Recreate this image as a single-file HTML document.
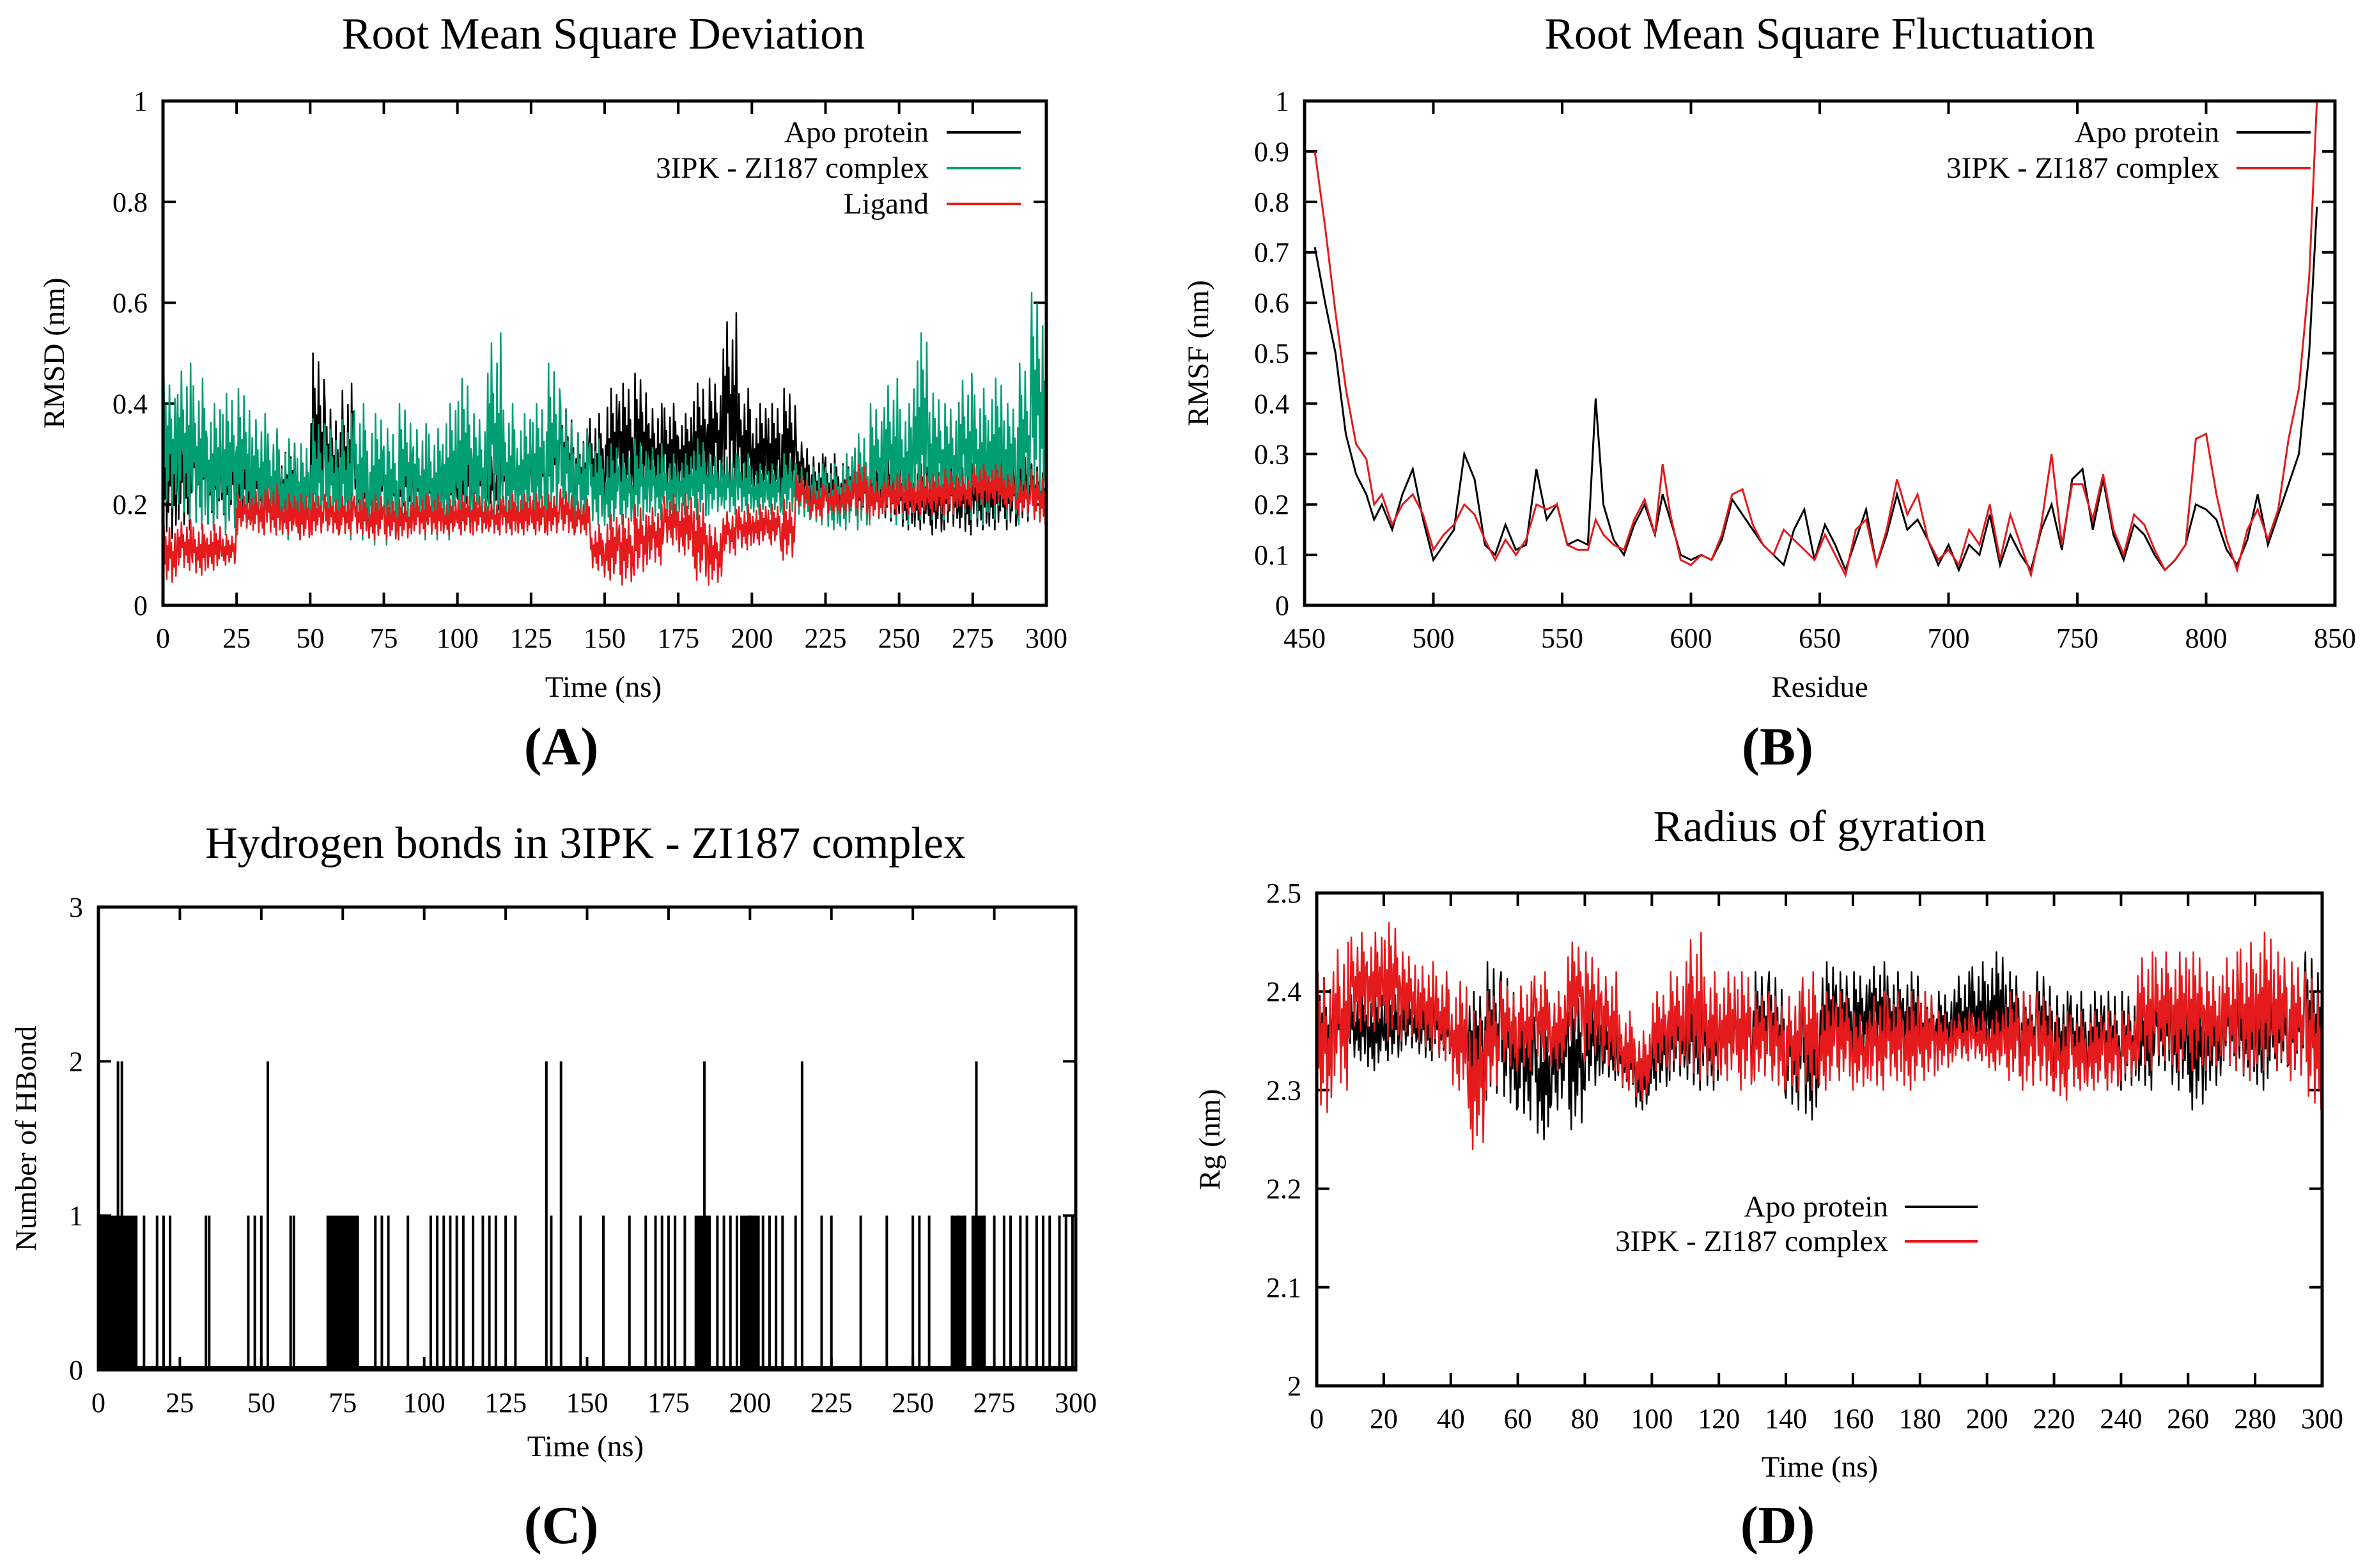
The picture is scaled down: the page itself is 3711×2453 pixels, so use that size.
<!DOCTYPE html>
<html><head><meta charset="utf-8"><style>
html,body{margin:0;padding:0;background:#fff;}
svg{display:block;font-family:"Liberation Serif",serif;}
</style></head><body>
<svg id="fig" width="3711" height="2453" viewBox="0 0 3711 2453" xmlns="http://www.w3.org/2000/svg"></svg>
<script>
// ---------- Panel A: RMSD (5 ns bins, low/high envelope) ----------
const rmsdApoHi=[.38,.36,.40,.38,.35,.33,.32,.34,.33,.30,.50,.40,.44,.33,.32,.30,.34,.32,.30,.33,.33,.32,.30,.34,.35,.35,.40,.40,.35,.38,.43,.44,.46,.40,.40,.38,.44,.45,.58,.43,.40,.40,.43,.33,.30,.30,.30,.30,.30,.30,.28,.28,.27,.30,.28,.28,.30,.30,.30,.28];
const rmsdApoLo=[.12,.15,.17,.15,.15,.15,.16,.15,.15,.15,.15,.17,.16,.15,.15,.15,.15,.15,.16,.16,.16,.17,.17,.17,.17,.18,.18,.18,.18,.18,.18,.20,.20,.20,.22,.22,.20,.22,.22,.22,.20,.20,.20,.20,.18,.17,.17,.16,.17,.16,.15,.15,.14,.15,.14,.15,.15,.15,.16,.16];
const rmsdCpxHi=[.45,.48,.45,.40,.42,.43,.38,.35,.33,.32,.37,.36,.38,.40,.38,.35,.40,.36,.35,.40,.45,.38,.54,.40,.38,.40,.48,.40,.35,.33,.32,.30,.33,.32,.30,.30,.33,.30,.30,.30,.28,.28,.30,.28,.28,.28,.30,.34,.40,.45,.40,.54,.42,.40,.46,.43,.45,.40,.48,.62];
const rmsdCpxLo=[.18,.17,.15,.15,.14,.14,.14,.14,.13,.13,.14,.14,.13,.13,.12,.12,.14,.13,.13,.13,.14,.14,.14,.14,.15,.15,.14,.15,.15,.16,.15,.16,.16,.17,.17,.18,.17,.18,.18,.18,.18,.18,.18,.17,.16,.15,.15,.15,.16,.16,.16,.17,.17,.17,.17,.16,.17,.17,.16,.18];
const rmsdLigHi=[.16,.17,.16,.16,.14,.22,.23,.24,.22,.22,.22,.22,.22,.22,.22,.21,.21,.22,.22,.21,.22,.22,.21,.22,.22,.22,.22,.23,.21,.16,.18,.18,.20,.20,.22,.22,.21,.16,.19,.20,.20,.20,.21,.26,.24,.24,.25,.28,.25,.26,.26,.26,.26,.27,.26,.28,.28,.26,.25,.27];
const rmsdLigLo=[.04,.07,.06,.07,.08,.15,.14,.14,.14,.13,.14,.14,.14,.14,.13,.13,.13,.14,.14,.14,.14,.14,.14,.14,.14,.14,.14,.14,.14,.07,.05,.04,.06,.08,.12,.10,.05,.04,.10,.11,.12,.12,.09,.19,.17,.18,.18,.18,.17,.18,.18,.18,.18,.18,.19,.20,.20,.19,.18,.16];
// ---------- Panel B: RMSF ----------
const rmsfResidue=[454,458,462,466,470,474,477,480,484,488,492,496,500,504,508,512,516,520,524,528,532,536,540,544,548,552,556,560,563,566,570,574,578,582,586,589,592,596,600,604,608,612,616,620,624,628,632,636,640,644,648,652,656,660,664,668,672,676,680,684,688,692,696,700,704,708,712,716,720,724,728,732,736,740,744,748,752,756,760,764,768,772,776,780,784,788,792,796,800,804,808,812,816,820,824,828,832,836,840,843];
const rmsfApo=[.71,.60,.50,.34,.26,.22,.17,.20,.15,.22,.27,.17,.09,.12,.15,.30,.25,.12,.10,.16,.11,.12,.27,.17,.20,.12,.13,.12,.41,.20,.13,.10,.16,.20,.14,.22,.17,.10,.09,.10,.09,.13,.21,.18,.15,.12,.10,.08,.15,.19,.09,.16,.12,.07,.13,.19,.08,.14,.22,.15,.17,.13,.08,.12,.07,.12,.10,.18,.08,.14,.10,.07,.15,.20,.11,.25,.27,.15,.25,.14,.09,.16,.14,.10,.07,.09,.12,.20,.19,.17,.11,.08,.13,.22,.12,.18,.24,.30,.50,.79];
const rmsfCpx=[.90,.75,.58,.43,.32,.29,.20,.22,.16,.20,.22,.18,.11,.14,.16,.20,.18,.13,.09,.13,.10,.13,.20,.19,.20,.12,.11,.11,.17,.14,.12,.11,.17,.21,.14,.28,.18,.09,.08,.10,.09,.14,.22,.23,.16,.12,.10,.15,.13,.11,.09,.14,.10,.06,.15,.17,.08,.15,.25,.18,.22,.13,.09,.11,.08,.15,.12,.20,.09,.18,.12,.06,.16,.30,.12,.24,.24,.17,.26,.15,.10,.18,.16,.11,.07,.09,.12,.33,.34,.22,.13,.07,.15,.19,.13,.19,.33,.43,.65,1.0];
// ---------- Panel C: H-bonds ----------
const hbTwoTimes=[6,7.2,52,137.5,142,186,216,269.5];
const hbOneTimes=[14,18,20,22,33,34,46,48,50,59,60,85,87,89,95,102,104,106,108,110,112,115,118,120,122,125,128,139,148,155,163,168,171,173,175,177,180,190,192,194,196,200,204,206,208,210,214,222,225,234,242,250,252,255,262,264,266,272,275,278,280,283,285,288,290,292,295,297,299];
const hbDenseStart=[0,70,183,197,262,268];
const hbDenseEnd=[12,80,188,203,266,272];
// ---------- Panel D: Rg (5 ns bins) ----------
const rgApoHi=[2.42,2.40,2.40,2.40,2.40,2.40,2.40,2.40,2.38,2.40,2.43,2.42,2.40,2.38,2.40,2.40,2.40,2.38,2.36,2.34,2.38,2.40,2.41,2.40,2.40,2.40,2.42,2.42,2.40,2.40,2.43,2.42,2.42,2.43,2.42,2.42,2.40,2.40,2.42,2.43,2.44,2.42,2.40,2.42,2.40,2.40,2.40,2.40,2.40,2.40,2.42,2.42,2.40,2.40,2.42,2.40,2.42,2.40,2.42,2.44];
const rgApoLo=[2.30,2.33,2.33,2.32,2.33,2.34,2.33,2.33,2.32,2.30,2.29,2.28,2.27,2.25,2.28,2.26,2.30,2.31,2.30,2.28,2.30,2.31,2.30,2.30,2.32,2.32,2.32,2.30,2.28,2.27,2.32,2.33,2.33,2.34,2.33,2.33,2.32,2.33,2.33,2.33,2.33,2.33,2.32,2.32,2.31,2.31,2.31,2.30,2.30,2.30,2.32,2.30,2.28,2.30,2.32,2.31,2.30,2.32,2.31,2.30];
const rgCpxHi=[2.42,2.45,2.46,2.46,2.47,2.44,2.43,2.42,2.41,2.38,2.40,2.41,2.41,2.42,2.40,2.45,2.44,2.42,2.38,2.36,2.40,2.42,2.46,2.42,2.42,2.42,2.40,2.40,2.40,2.42,2.40,2.40,2.38,2.40,2.40,2.40,2.40,2.38,2.38,2.38,2.38,2.40,2.40,2.40,2.38,2.38,2.38,2.38,2.38,2.44,2.44,2.44,2.44,2.42,2.44,2.45,2.46,2.44,2.43,2.42];
const rgCpxLo=[2.27,2.30,2.36,2.36,2.35,2.35,2.34,2.33,2.30,2.24,2.30,2.32,2.32,2.33,2.32,2.35,2.33,2.32,2.30,2.29,2.32,2.32,2.31,2.31,2.31,2.30,2.31,2.30,2.30,2.30,2.30,2.31,2.30,2.30,2.31,2.30,2.31,2.32,2.33,2.33,2.32,2.31,2.30,2.30,2.29,2.30,2.30,2.30,2.31,2.32,2.33,2.32,2.32,2.32,2.32,2.31,2.32,2.32,2.31,2.28];

const NS="http://www.w3.org/2000/svg";
const svg=document.getElementById('fig');
function el(tag,attrs,parent){const e=document.createElementNS(NS,tag);for(const k in attrs)e.setAttribute(k,attrs[k]);(parent||svg).appendChild(e);return e;}
function txt(s,x,y,size,anchor,parent,extra){const t=el('text',Object.assign({x:x,y:y,'font-size':size,'text-anchor':anchor||'middle',fill:'#000'},extra||{}),parent);t.textContent=s;return t;}
const jitter=[0,1,.35,.8,.1,.65,.25,.95,.45,.7,.05,.55,.3,.85,.15,.6];

function panel(p){
  const g=el('g',{});
  
  
  const sx=v=>p.L+(v-p.x0)/(p.x1-p.x0)*(p.R-p.L);
  const sy=v=>p.B-(v-p.y0)/(p.y1-p.y0)*(p.B-p.T);
  p.sx=sx;p.sy=sy;p.g=g;
  const tg=el('g',{stroke:'#000','stroke-width':4},g);
  
  
  p.xt.forEach(v=>{const x=sx(v);el('line',{x1:x,y1:p.B,x2:x,y2:p.B-20},tg);el('line',{x1:x,y1:p.T,x2:x,y2:p.T+20},tg);
    const t=txt(String(v),x,p.B+66,44,'middle',g);
    
    });
  p.yt.forEach(v=>{const y=sy(v);el('line',{x1:p.L,y1:y,x2:p.L+20,y2:y},tg);el('line',{x1:p.R,y1:y,x2:p.R-20,y2:y},tg);
    const t=txt(p.yf?p.yf(v):String(v),p.L-24,y+15,44,'end',g);
    
    });
  const tt=txt(p.title,p.tx,p.ty,70,'middle',g);
  
  
  const xl=txt(p.xlab,p.tx,p.xly,47,'middle',g);
  
  
  const yl=txt(p.ylab,0,0,47,'middle',g,{transform:`translate(${p.ylx},${(p.T+p.B)/2}) rotate(-90)`});
  
  
  const pl=txt(p.letter,p.lx,p.ly,84,'middle',g,{'font-weight':'bold'});
  
  
  return p;
}
function border(p){const r=el('rect',{x:p.L,y:p.T,width:p.R-p.L,height:p.B-p.T,fill:'none',stroke:'#000','stroke-width':5},p.g);
  
  }
function noisy(p,lo,hi,x0,w,color,name){
  const pts=[];const k=jitter.length;
  for(let i=0;i<lo.length;i++){for(let j=0;j<k;j++){const t=x0+i*w+j*w/k;const f=jitter[(j+i*3)%k];pts.push(p.sx(t).toFixed(1)+','+p.sy(lo[i]+f*(hi[i]-lo[i])).toFixed(1));}}
  const pl=el('polyline',{points:pts.join(' '),fill:'none',stroke:color,'stroke-width':2.5,'stroke-linejoin':'round'},p.g);
  
  
}
function line(p,xs,ys,color,name){
  const pl=el('polyline',{points:xs.map((x,i)=>p.sx(x).toFixed(1)+','+p.sy(ys[i]).toFixed(1)).join(' '),fill:'none',stroke:color,'stroke-width':3},p.g);
  
  
}
function legend(p,items,xr,y0,dy,l1,l2){
  items.forEach((it,i)=>{const y=y0+i*dy;
    const t=txt(it[0],xr,y+15,47,'end',p.g);
    
    
    const l=el('line',{x1:l1,y1:y,x2:l2,y2:y,stroke:it[1],'stroke-width':4},p.g);
    
    });
}
const rng=(a,b,s)=>{const r=[];for(let v=a;v<=b+1e-9;v+=s)r.push(Math.round(v*100)/100);return r;};
const GREEN='#009e73',RED='#e41a1c';

// Panel A
const A=panel({name:'rmsd-panel',L:255,R:1637,T:158,B:947,x0:0,x1:300,y0:0,y1:1,xt:rng(0,300,25),yt:rng(0,1,.2),yf:v=>v===0||v===1?String(v):v.toFixed(1),
  title:'Root Mean Square Deviation',tx:944,ty:76,xlab:'Time (ns)',xly:1090,ylab:'RMSD (nm)',ylx:100,letter:'(A)',lx:878,ly:1196});
noisy(A,rmsdApoLo,rmsdApoHi,0,5,'#000','apo-rmsd-line');
noisy(A,rmsdCpxLo,rmsdCpxHi,0,5,GREEN,'complex-rmsd-line');
noisy(A,rmsdLigLo,rmsdLigHi,0,5,RED,'ligand-rmsd-line');
border(A);
legend(A,[['Apo protein','#000'],['3IPK - ZI187 complex',GREEN],['Ligand',RED]],1453,207,56,1481,1597);

// Panel B
const Bp=panel({name:'rmsf-panel',L:2041,R:3653,T:158,B:947,x0:450,x1:850,y0:0,y1:1,xt:rng(450,850,50),yt:rng(0,1,.1),yf:v=>v===0||v===1?String(v):v.toFixed(1),
  title:'Root Mean Square Fluctuation',tx:2847,ty:76,xlab:'Residue',xly:1090,ylab:'RMSF (nm)',ylx:1890,letter:'(B)',lx:2781,ly:1196});
line(Bp,rmsfResidue,rmsfApo,'#000','apo-rmsf-line');
line(Bp,rmsfResidue,rmsfCpx,RED,'complex-rmsf-line');
border(Bp);
legend(Bp,[['Apo protein','#000'],['3IPK - ZI187 complex',RED]],3472,207,56,3499,3615);

// Panel C
const C=panel({name:'hbond-panel',L:154,R:1683,T:1419,B:2143,x0:0,x1:300,y0:0,y1:3,xt:rng(0,300,25),yt:[0,1,2,3],
  title:'Hydrogen bonds in 3IPK - ZI187 complex',tx:916,ty:1342,xlab:'Time (ns)',xly:2278,ylab:'Number of HBond',ylx:56,letter:'(C)',lx:878,ly:2414});
hbDenseStart.forEach((s,i)=>{const r=el('rect',{x:C.sx(s),y:C.sy(1),width:C.sx(hbDenseEnd[i])-C.sx(s),height:C.sy(0)-C.sy(1),fill:'#000'},C.g);
  
  });
hbOneTimes.forEach(t=>{const l=el('line',{x1:C.sx(t),y1:C.sy(0),x2:C.sx(t),y2:C.sy(1),stroke:'#000','stroke-width':4},C.g);
  
  });
hbTwoTimes.forEach(t=>{const l=el('line',{x1:C.sx(t),y1:C.sy(0),x2:C.sx(t),y2:C.sy(2),stroke:'#000','stroke-width':4},C.g);
  
  });
const base=el('line',{x1:C.L,y1:C.sy(0)-3,x2:C.R,y2:C.sy(0)-3,stroke:'#000','stroke-width':6},C.g);


border(C);

// Panel D
const D=panel({name:'rg-panel',L:2060,R:3633,T:1397,B:2168,x0:0,x1:300,y0:2,y1:2.5,xt:rng(0,300,20),yt:rng(2,2.5,.1),yf:v=>v===2?'2':v.toFixed(1),
  title:'Radius of gyration',tx:2847,ty:1316,xlab:'Time (ns)',xly:2310,ylab:'Rg (nm)',ylx:1908,letter:'(D)',lx:2781,ly:2414});
noisy(D,rgApoLo,rgApoHi,0,5,'#000','apo-rg-line');
noisy(D,rgCpxLo,rgCpxHi,0,5,RED,'complex-rg-line');
border(D);
legend(D,[['Apo protein','#000'],['3IPK - ZI187 complex',RED]],2954,1888,54,2980,3094);
</script>
</body></html>
